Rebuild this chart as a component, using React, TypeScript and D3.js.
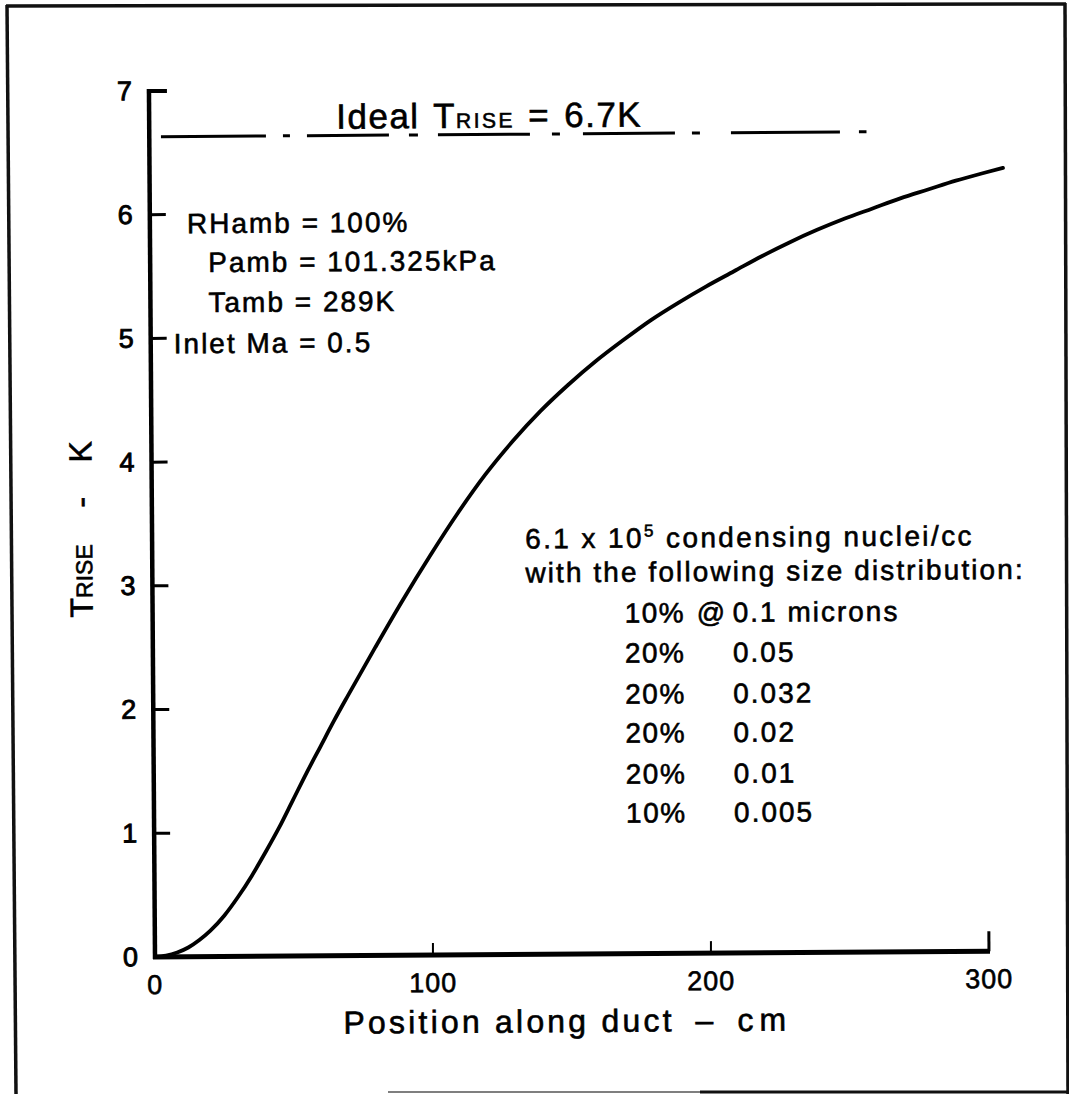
import React from 'react';
import * as d3 from 'd3';

// ---- data ----
const positionCm = [0, 4, 8, 12, 16, 20, 25, 30, 35, 40, 45, 50, 55, 60, 65, 70, 80, 90, 100, 110, 120, 130, 140, 150, 160, 170, 180, 190, 200, 210, 220, 230, 240, 250, 260, 270, 280, 290, 300, 307];
const triseK = [0, 0.01, 0.035, 0.075, 0.135, 0.21, 0.33, 0.48, 0.65, 0.84, 1.04, 1.26, 1.48, 1.69, 1.9, 2.1, 2.49, 2.87, 3.23, 3.57, 3.88, 4.15, 4.39, 4.6, 4.79, 4.96, 5.12, 5.26, 5.39, 5.51, 5.63, 5.74, 5.84, 5.93, 6.01, 6.09, 6.16, 6.23, 6.29, 6.33];

const xTickValues = [0, 100, 200, 300];
const xTickLabels = ['0', '100', '200', '300'];
const yTickValues = [0, 1, 2, 3, 4, 5, 6, 7];
const yTickLabels = ['0', '1', '2', '3', '4', '5', '6', '7'];

const idealFromCm = [4.2];
const idealToCm = [258];
const idealLevelK = [6.63];
const idealLabelText = ['Ideal', 'T', 'RISE', '=', '6.7K'];

const conditionLines = ['RHamb = 100%', 'Pamb = 101.325kPa', 'Tamb = 289K', 'Inlet Ma = 0.5'];
const nucleiHeader = ['6.1 x 10', '5', ' condensing nuclei/cc'];
const nucleiSubheader = ['with the following size distribution:'];
const distPercent = ['10%', '20%', '20%', '20%', '20%', '10%'];
const distSize = ['0.1 microns', '0.05', '0.032', '0.02', '0.01', '0.005'];

const xAxisTitle = ['Position along duct', '–', 'cm'];
const yAxisTitle = ['T', 'RISE', '-', 'K'];

const FONT = '"Liberation Sans", Arial, Helvetica, sans-serif';

export default function App() {
  const W = 1069;
  const H = 1094;
  const x = d3.scaleLinear().domain([0, 300]).range([155, 989]);
  const y = d3.scaleLinear().domain([0, 7]).range([957, 91]);

  const pts: [number, number][] = positionCm.map((c, i) => [c, triseK[i]]);
  const line = d3
    .line<[number, number]>()
    .x((d) => x(d[0]))
    .y((d) => y(d[1]))
    .curve(d3.curveMonotoneX);

  const x0 = x(0);
  const y0 = y(0);

  const condX = [192, 213, 213, 178];
  const condY = [233.5, 272.5, 312.5, 353.5];
  const rowY = [626, 666, 707, 746, 787, 826];
  const ink = { fill: '#000', stroke: '#000', strokeWidth: 0.6 } as const;

  return (
    <svg
      width={W}
      height={H}
      style={{ position: 'absolute', left: 0, top: 0, background: '#fff' }}
      fontFamily={FONT}
    >
      <rect x={0} y={0} width={W} height={H} fill="#fff" />
      {/* scanned frame */}
      <g stroke="#111" strokeWidth={3.5} fill="none">
        <line x1={7} y1={5} x2={16} y2={1094} />
        <line x1={6} y1={6} x2={1066} y2={4} />
        <line x1={1065} y1={3} x2={1068} y2={1094} />
        <line x1={388} y1={1092} x2={700} y2={1092} strokeWidth={1.5} stroke="#555" />
        <line x1={700} y1={1092} x2={1069} y2={1092} strokeWidth={3} />
      </g>

      <g transform={`rotate(-0.4, ${x0}, ${y0})`}>
        {/* axes */}
        <line x1={x0} y1={y0 + 2} x2={x0} y2={y(7) - 2} stroke="#000" strokeWidth={4.5} />
        <line x1={x0 - 2} y1={y0} x2={x(300) + 1} y2={y0} stroke="#000" strokeWidth={5} />
        {yTickValues
          .filter((v) => v > 0)
          .map((v) => (
            <line
              key={'yt' + v}
              x1={x0}
              x2={x0 + (v === 7 ? 18 : 16)}
              y1={y(v)}
              y2={y(v)}
              stroke="#000"
              strokeWidth={v === 7 ? 4 : 3}
            />
          ))}
        {xTickValues
          .filter((v) => v > 0)
          .map((v) => (
            <line
              key={'xt' + v}
              x1={x(v)}
              x2={x(v)}
              y1={y0}
              y2={y0 - (v === 300 ? 20 : 12)}
              stroke="#000"
              strokeWidth={v === 300 ? 3 : 2}
            />
          ))}
        {yTickValues.map((v, i) => (
          <text key={'yl' + v} x={x0 - 17} y={y(v) + 9} fontSize={27} textAnchor="end" {...ink} strokeWidth={0.9}>
            {yTickLabels[i]}
          </text>
        ))}
        {xTickValues.map((v, i) => (
          <text key={'xl' + v} x={x(v)} y={y0 + 37} fontSize={27} textAnchor="middle" {...ink} letterSpacing={1}>
            {xTickLabels[i]}
          </text>
        ))}

        {/* axis titles */}
        <text y={1035} fontSize={32} {...ink} letterSpacing={3.2}>
          <tspan x={343}>{xAxisTitle[0]}</tspan>
          <tspan x={695}>{xAxisTitle[1]}</tspan>
          <tspan x={737} letterSpacing={6}>{xAxisTitle[2]}</tspan>
        </text>
        <text transform="translate(95,617) rotate(-90)" fontSize={32} {...ink}>
          <tspan x={0}>{yAxisTitle[0]}</tspan>
          <tspan fontSize={23}>{yAxisTitle[1]}</tspan>
          <tspan x={110}>{yAxisTitle[2]}</tspan>
          <tspan x={155}>{yAxisTitle[3]}</tspan>
        </text>

        {/* ideal line */}
        <line
          x1={x(idealFromCm[0])}
          x2={x(idealToCm[0])}
          y1={y(idealLevelK[0])}
          y2={y(idealLevelK[0])}
          stroke="#000"
          strokeWidth={3}
          strokeDasharray="105 17 7 17 82 20 9 20 92 22 8 23 92 17 8 31 109 19 10 300"
        />
        <text y={130} fontSize={35} {...ink} letterSpacing={1.5}>
          <tspan x={342}>{idealLabelText[0]}</tspan>
          <tspan x={439}>{idealLabelText[1]}</tspan>
          <tspan fontSize={21} letterSpacing={2.5}>{idealLabelText[2]}</tspan>
          <tspan x={534}>{idealLabelText[3]}</tspan>
          <tspan x={570}>{idealLabelText[4]}</tspan>
        </text>

        {/* conditions */}
        {conditionLines.map((t, i) => (
          <text key={'c' + i} x={condX[i]} y={condY[i]} fontSize={28} {...ink} letterSpacing={2}>
            {t}
          </text>
        ))}

        {/* nuclei annotation */}
        <text x={528} y={551} fontSize={28} {...ink} letterSpacing={2.4}>
          {nucleiHeader[0]}
          <tspan fontSize={17} dy={-11}>{nucleiHeader[1]}</tspan>
          <tspan dy={11}>{nucleiHeader[2]}</tspan>
        </text>
        <text x={528} y={585} fontSize={28} {...ink} letterSpacing={2.1}>
          {nucleiSubheader[0]}
        </text>
        {distPercent.map((p, i) => (
          <g key={'d' + i}>
            <text x={627} y={rowY[i]} fontSize={28} {...ink} letterSpacing={1.5}>
              {p}
            </text>
            {i === 0 && (
              <text x={699} y={rowY[i]} fontSize={28} {...ink}>
                @
              </text>
            )}
            <text x={735} y={rowY[i]} fontSize={28} {...ink} letterSpacing={2}>
              {distSize[i]}
            </text>
          </g>
        ))}

        {/* curve */}
        <path d={line(pts) || ''} fill="none" stroke="#000" strokeWidth={3.8} strokeLinecap="round" />
      </g>
    </svg>
  );
}
